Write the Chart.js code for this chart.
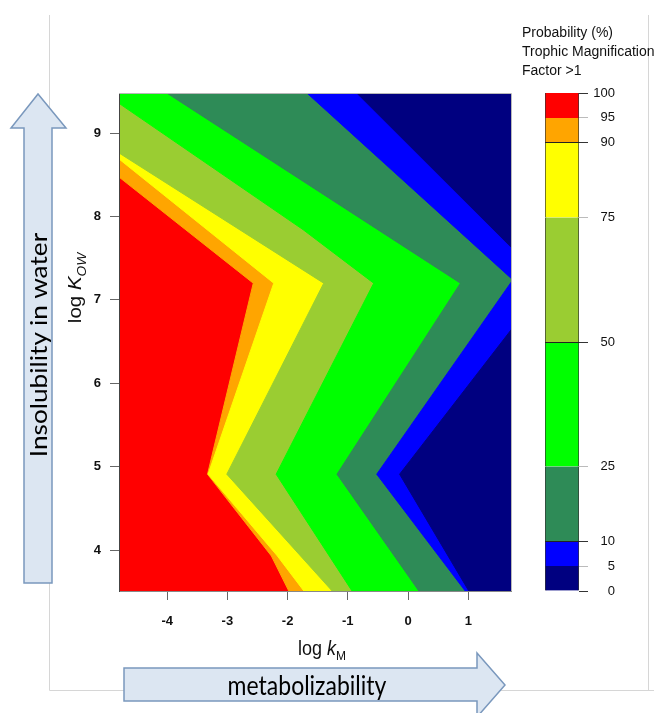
<!DOCTYPE html>
<html>
<head>
<meta charset="utf-8">
<script src="https://cdn.jsdelivr.net/npm/chart.js@4.4.0/dist/chart.umd.min.js"></script>
<style>
body { margin: 0; background: #fff; }
#wrap { position: relative; width: 654px; height: 713px; overflow: hidden; font-family: "Liberation Sans", Arial, sans-serif; color: #111; }
canvas, svg { position: absolute; top: 0; }
.t { position: absolute; white-space: nowrap; }
.arrowtxt { font-family: Lato, "Open Sans", sans-serif; font-size: 23px; color: #000; text-align: center; }
.sub { font-size: 12px; position: relative; top: 5px; }
</style>
</head>
<body>
<div id="wrap">
<svg width="654" height="713" style="left:0">
  <path d="M49.5 15 V690.5 H654" fill="none" stroke="#d6d6d6" stroke-width="1"/>
  <path d="M648.5 15 V690.5" fill="none" stroke="#d6d6d6" stroke-width="1"/>
  <polygon points="24,583 24,128 11,128 38,94 66,128 52,128 52,583" fill="#dce6f2" stroke="#7a98bd" stroke-width="1.5"/>
  <polygon points="124,668 477,668 477,653 505,685 477,717 477,701 124,701" fill="#dce6f2" stroke="#7a98bd" stroke-width="1.5"/>
</svg>
<canvas id="chartKontur" width="654" height="713" style="left:0"></canvas>
<canvas id="chartScala" width="134" height="713" style="left:520px"></canvas>

<div class="t" style="left:522px;top:23px;font-size:14px;line-height:19px;">Probability (%)<br>Trophic Magnification<br>Factor &gt;1</div>
<div class="t" style="left:222px;top:637px;width:200px;text-align:center;font-size:18px;line-height:22px;transform:scaleY(1.14);">log <i>k</i><span class="sub">M</span></div>
<div class="t" style="left:15px;top:277px;width:120px;height:22px;text-align:center;font-size:18px;line-height:22px;transform:scaleY(1.14) rotate(-90deg);">log <i>K</i><span class="sub"><i>OW</i></span></div>
<div class="t arrowtxt" style="left:-92px;top:330px;width:260px;line-height:30px;transform:scaleY(1.14) rotate(-90deg);">Insolubility in water</div>
<div class="t arrowtxt" style="left:177px;top:670px;width:260px;line-height:30px;transform:scaleY(1.14);">metabolizability</div>
</div>

<script>
var kmTicks = [-4, -3, -2, -1, 0, 1];
var kowTicks = [4, 5, 6, 7, 8, 9];
var levels = [0, 5, 10, 25, 50, 75, 90, 95, 100];
var levelColors = ['#000080', '#0000ff', '#2e8b57', '#00ff00', '#9acd32', '#ffff00', '#ffa500', '#ff0000'];

// contour lines as [log kM, log Kow], from bottom to top
var c95 = [[-1.98, 3.51], [-2.27, 3.93], [-3.33, 4.91], [-2.57, 7.20], [-6.60, 9.5]];
var c90 = [[-1.73, 3.51], [-2.17, 3.93], [-3.32, 4.91], [-2.23, 7.20], [-6.20, 9.5]];
var c75 = [[-1.26, 3.51], [-3.01, 4.91], [-1.40, 7.20], [-6.41, 9.5]];
var c50 = [[-0.93, 3.51], [-2.19, 4.91], [-0.57, 7.20], [-1.74, 7.84], [-5.09, 9.5]];
var c25 = [[0.18, 3.51], [-1.18, 4.91], [0.87, 7.20], [-4.05, 9.5]];
var c10 = [[0.95, 3.51], [-0.52, 4.91], [1.74, 7.24], [-1.71, 9.5]];
var c5 = [[1.01, 3.51], [-0.14, 4.91], [2.31, 7.20], [-0.88, 9.5]];

var konture = [c5, c10, c25, c50, c75, c90, c95];

var fontTick = { family: 'Liberation Sans', size: 13, weight: 'bold' };

// red background under the lowest contour, light frame on top/right
var pozadina = {
    id: 'pozadina',
    beforeDatasetsDraw: function (chart) {
        var a = chart.chartArea, ctx = chart.ctx;
        ctx.save();
        ctx.fillStyle = levelColors[7];
        ctx.fillRect(a.left, a.top, a.right - a.left, a.bottom - a.top);
        ctx.restore();
    },
    afterDraw: function (chart) {
        var a = chart.chartArea, ctx = chart.ctx;
        ctx.save();
        ctx.strokeStyle = '#b8b8b8';
        ctx.lineWidth = 1;
        ctx.beginPath();
        ctx.moveTo(a.left, a.top + 0.5);
        ctx.lineTo(a.right + 0.5, a.top + 0.5);
        ctx.lineTo(a.right + 0.5, a.bottom);
        ctx.stroke();
        ctx.restore();
    }
};

var chartKontur = new Chart(document.getElementById('chartKontur'), {
    type: 'line',
    data: {
        datasets: konture.map(function (c, i) {
            return {
                data: c.map(function (p) { return { x: p[0], y: p[1] }; }),
                backgroundColor: levelColors[i],
                borderColor: levelColors[i],
                borderWidth: 1,
                pointRadius: 0,
                tension: 0,
                clip: 0,
                fill: { value: 3 }
            };
        })
    },
    options: {
        responsive: false,
        animation: false,
        events: [],
        indexAxis: 'y',
        layout: { padding: { left: 0, top: 93, right: 143, bottom: 0 } },
        plugins: { legend: { display: false }, tooltip: { enabled: false } },
        scales: {
            x: {
                type: 'linear',
                position: 'bottom',
                min: -4.8,
                max: 1.71,
                afterBuildTicks: function (s) { s.ticks = kmTicks.map(function (v) { return { value: v }; }); },
                afterFit: function (s) { s.height = 122; },
                grid: { drawOnChartArea: false, tickLength: 9, color: '#666', z: 1 },
                border: { color: '#888', z: 1 },
                ticks: { padding: 14, color: '#111', font: fontTick }
            },
            y: {
                type: 'linear',
                position: 'left',
                min: 3.51,
                max: 9.48,
                afterBuildTicks: function (s) { s.ticks = kowTicks.map(function (v) { return { value: v }; }); },
                afterFit: function (s) { s.width = 119; },
                grid: { drawOnChartArea: false, tickLength: 9, color: '#666', z: 1 },
                border: { color: '#444', z: 1 },
                ticks: { padding: 9, color: '#111', font: fontTick }
            }
        }
    },
    plugins: [pozadina]
});

var tamneLinije = [90, 50, 10];
var tamniTickovi = [100, 90, 50, 10, 0];

var chartScala = new Chart(document.getElementById('chartScala'), {
    type: 'bar',
    data: {
        labels: [''],
        datasets: levelColors.map(function (c, i) {
            return {
                data: [[levels[i], levels[i + 1]]],
                backgroundColor: c,
                borderColor: '#333',
                borderWidth: { left: 1, right: 1, top: 0, bottom: 0 },
                borderSkipped: false,
                barPercentage: 1,
                categoryPercentage: 1
            };
        })
    },
    options: {
        responsive: false,
        animation: false,
        events: [],
        layout: { padding: { left: 25, top: 93, right: 39, bottom: 122 } },
        plugins: { legend: { display: false }, tooltip: { enabled: false } },
        scales: {
            x: { display: false, stacked: true },
            y: {
                position: 'right',
                min: 0,
                max: 100,
                afterBuildTicks: function (s) { s.ticks = levels.map(function (v) { return { value: v }; }); },
                afterFit: function (s) { s.width = 36; },
                grid: {
                    drawOnChartArea: true,
                    tickLength: 9,
                    z: 1,
                    color: function (ctx) { return tamneLinije.indexOf(ctx.tick.value) != -1 ? '#222' : 'rgba(0,0,0,0)'; },
                    tickColor: function (ctx) { return tamniTickovi.indexOf(ctx.tick.value) != -1 ? '#333' : '#bbb'; }
                },
                border: { display: false },
                ticks: { padding: 5, crossAlign: 'far', color: '#111', font: { family: 'Liberation Sans', size: 13 } }
            }
        }
    }
});
</script>
</body>
</html>
